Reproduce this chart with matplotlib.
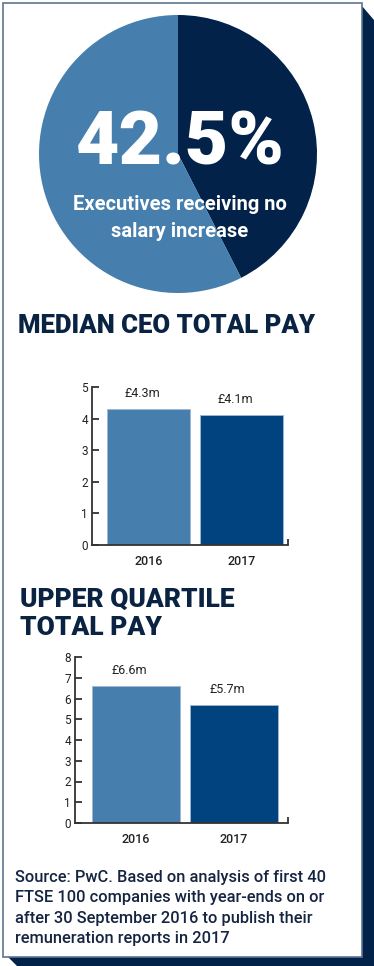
import matplotlib
matplotlib.use("Agg")
import matplotlib.pyplot as plt
from matplotlib.patches import Rectangle, Polygon

# ---------------- data ----------------
pie_labels = ["No salary increase", "Other"]
pie_values = [42.5, 57.5]
pie_big_text = "42.5%"
pie_caption = "Executives receiving no\nsalary increase"

years = ["2016", "2017"]
median_pay = [4.3, 4.1]
median_labels = ["£4.3m", "£4.1m"]
median_ticks = [0, 1, 2, 3, 4, 5]

upper_pay = [6.6, 5.7]
upper_labels = ["£6.6m", "£5.7m"]
upper_ticks = [0, 1, 2, 3, 4, 5, 6, 7, 8]

title1 = "MEDIAN CEO TOTAL PAY"
title2 = "UPPER QUARTILE\nTOTAL PAY"
source = ("Source: PwC. Based on analysis of first 40\n"
          "FTSE 100 companies with year-ends on or\n"
          "after 30 September 2016 to publish their\n"
          "remuneration reports in 2017")

# ---------------- style ----------------
W, H = 374, 966
DPI = 100
LIGHT = "#467EAD"
DARK_PIE = "#032249"
DARK_BAR = "#00437F"
NAVY = "#0B2343"
SHADOW = "#03224A"
BORDER = "#5E7592"
SPINE = "#333333"
MAIN_FONT = ["Roboto", "DejaVu Sans"]
NARROW_FONT = ["Roboto", "DejaVu Sans"]

fig = plt.figure(figsize=(W / DPI, H / DPI), dpi=DPI)
fig.patch.set_facecolor("white")


def fx(x):
    return x / W


def fy(y):
    return 1 - y / H


def axes_px(left, top, right, bottom):
    return fig.add_axes([fx(left), fy(bottom), (right - left) / W, (bottom - top) / H])


# frame + shadow
fig.patches.append(Polygon([(fx(362), fy(6)), (fx(374), fy(20)), (fx(374), fy(966)),
                            (fx(17), fy(966)), (fx(8), fy(957)), (fx(362), fy(957))],
                           closed=True, transform=fig.transFigure, facecolor=SHADOW,
                           edgecolor="none", zorder=-3))
fig.patches.append(Rectangle((fx(3), fy(957)), (362 - 3) / W, (957 - 3) / H,
                             transform=fig.transFigure, facecolor="white",
                             edgecolor=BORDER, linewidth=1.2, zorder=-2))

# ---------------- pie ----------------
axp = axes_px(39, 15, 317, 293)
axp.pie(pie_values, colors=[DARK_PIE, LIGHT], startangle=90, counterclock=False,
        wedgeprops=dict(linewidth=0))
axp.set_xlim(-1, 1)
axp.set_ylim(-1, 1)
axp.set_aspect("equal")
axp.axis("off")

fig.text(fx(180), fy(165), pie_big_text, color="white", fontsize=54, fontweight="black",
         family=MAIN_FONT, ha="center", va="baseline", zorder=5)
cap_lines = pie_caption.split("\n")
fig.text(fx(180), fy(210), cap_lines[0], color="white", fontsize=14.5, fontweight="bold",
         family=MAIN_FONT, ha="center", va="baseline", zorder=5)
fig.text(fx(180), fy(237), cap_lines[1], color="white", fontsize=14.5, fontweight="bold",
         family=MAIN_FONT, ha="center", va="baseline", zorder=5)

# ---------------- titles ----------------
fig.text(fx(18), fy(333), title1, color=NAVY, fontsize=18.5, fontweight="heavy",
         family=MAIN_FONT, ha="left", va="baseline")
t2 = title2.split("\n")
fig.text(fx(20), fy(607), t2[0], color=NAVY, fontsize=19, fontweight="heavy",
         family=MAIN_FONT, ha="left", va="baseline")
fig.text(fx(20), fy(635), t2[1], color=NAVY, fontsize=19, fontweight="heavy",
         family=MAIN_FONT, ha="left", va="baseline")


def bar_chart(ax, values, labels, ticks, xlim, width):
    x = list(range(len(years)))
    ax.bar(x, values, width=width, color=[LIGHT, DARK_BAR], edgecolor="#9FB8D3",
           linewidth=0.6, zorder=2)
    ax.set_xlim(*xlim)
    ax.set_ylim(ticks[0], ticks[-1])
    ax.set_yticks(ticks)
    ax.set_yticklabels([str(t) for t in ticks], family=NARROW_FONT, fontsize=8.5,
                       color="#222222")
    ax.set_xticks(x)
    ax.set_xticklabels(years, family=NARROW_FONT, fontsize=9, fontweight="medium",
                       color="#222222")
    ax.set_xticks([xlim[1]], minor=True)
    ax.tick_params(axis="x", which="major", length=0, pad=7)
    ax.tick_params(axis="x", which="minor", direction="in", length=4, width=1.3,
                   color=SPINE)
    ax.tick_params(axis="y", direction="in", length=5, width=1.3, color=SPINE, pad=3)
    for s in ["top", "right"]:
        ax.spines[s].set_visible(False)
    for s in ["left", "bottom"]:
        ax.spines[s].set_color(SPINE)
        ax.spines[s].set_linewidth(1.3)
    ax.patch.set_alpha(0)
    for xi, v, lab in zip(x, values, labels):
        ax.annotate(lab, (xi, v), xytext=(-4.5, 6.5), textcoords="offset points",
                    ha="center", va="bottom", family=NARROW_FONT, fontsize=9,
                    color="#222222", annotation_clip=False)


ax1 = axes_px(92, 387, 288, 545)
bar_chart(ax1, median_pay, median_labels, median_ticks, (-0.61, 1.5), 0.89)

ax2 = axes_px(75, 657, 288, 823)
bar_chart(ax2, upper_pay, upper_labels, upper_ticks, (-0.62, 1.55), 0.9)

# ---------------- source ----------------
for i, line in enumerate(source.split("\n")):
    fig.text(fx(15), fy(882 + i * 20.3), line, color="#152440", fontsize=11.8,
             fontweight="medium", family=MAIN_FONT, ha="left", va="baseline")

fig.savefig("out.png", dpi=DPI, facecolor="white")
